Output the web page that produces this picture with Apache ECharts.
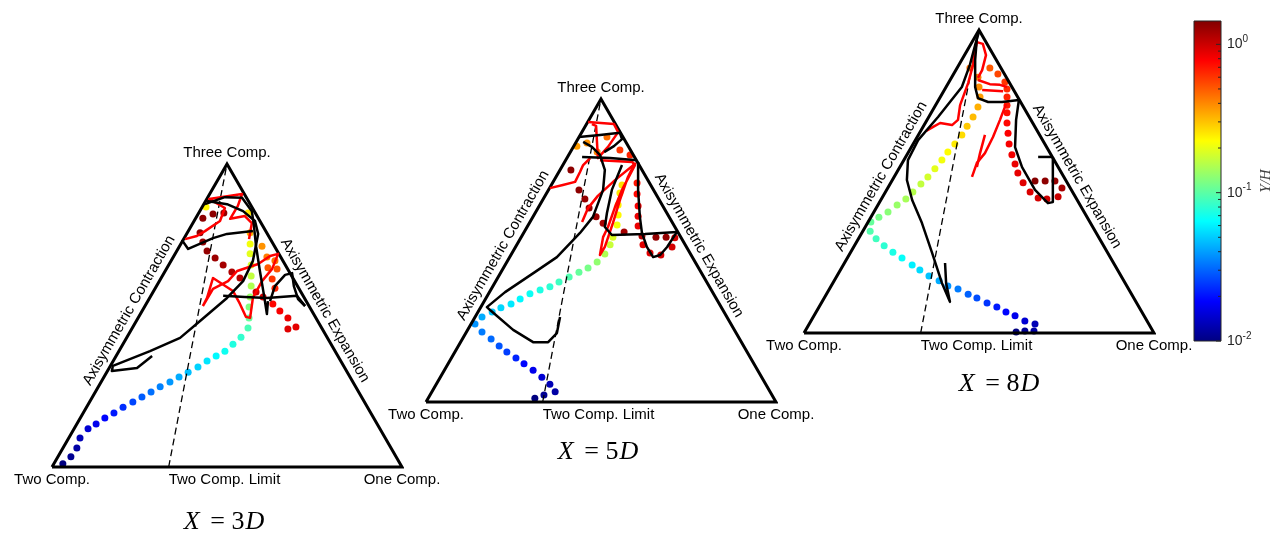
<!DOCTYPE html>
<html>
<head>
<meta charset="utf-8">
<title>Barycentric anisotropy maps</title>
<script src="https://cdn.jsdelivr.net/npm/echarts/dist/echarts.min.js"></script>
<style>
  html, body { margin: 0; padding: 0; background: #fff; }
  #chart { width: 1283px; height: 535px; }
</style>
</head>
<body>
<div id="chart"></div>
<script>
// Barycentric map coordinates: Two Comp. = (0,0), One Comp. = (1,0), Three Comp. = (0.5, sqrt(3)/2)
const SQ3 = Math.sqrt(3) / 2;

const VERTEX_LABELS = ['Three Comp.', 'Two Comp.', 'Two Comp. Limit', 'One Comp.'];
const EDGE_LABELS = ['Axisymmetric Contraction', 'Axisymmetric Expansion'];
const STATIONS = ['3', '5', '8'];            // X / D of each map

// Colour bar (Y/H, log scale)
const CB_RANGE = [0.01, 1.436];
const CB_MAJOR = [0.01, 0.1, 1];
const CB_MINOR = [0.02, 0.03, 0.04, 0.05, 0.06, 0.07, 0.08, 0.09, 0.2, 0.3, 0.4, 0.5, 0.6, 0.7, 0.8, 0.9];

// ---- X = 3D ----  dots: [x, y, Y/H]
const dots3D = [
  [0.031,0.009,0.010],[0.054,0.029,0.011],[0.071,0.054,0.012],[0.080,0.083,0.013],
  [0.103,0.109,0.015],[0.126,0.123,0.017],[0.151,0.140,0.019],[0.177,0.154,0.021],
  [0.203,0.171,0.023],[0.231,0.186,0.026],[0.257,0.200,0.029],[0.283,0.214,0.032],
  [0.309,0.229,0.035],[0.337,0.243,0.039],[0.363,0.257,0.043],[0.389,0.271,0.047],
  [0.417,0.286,0.052],[0.443,0.303,0.057],[0.469,0.317,0.063],[0.494,0.331,0.069],
  [0.517,0.351,0.075],[0.540,0.371,0.082],[0.560,0.397,0.092],[0.563,0.426,0.105],
  [0.563,0.457,0.12],[0.566,0.486,0.135],[0.569,0.517,0.15],[0.569,0.546,0.165],
  [0.569,0.577,0.18],[0.566,0.609,0.195],[0.566,0.637,0.21],[0.560,0.726,0.25],
  [0.440,0.743,0.23],[0.566,0.669,0.32],[0.600,0.631,0.38],[0.614,0.600,0.42],
  [0.637,0.589,0.45],[0.617,0.569,0.5],[0.643,0.566,0.52],[0.629,0.537,0.6],
  [0.637,0.511,0.65],[0.631,0.466,0.75],[0.651,0.446,0.8],[0.674,0.426,0.85],
  [0.674,0.394,0.9],[0.697,0.400,0.88],[0.431,0.711,1.35],[0.460,0.723,1.35],
  [0.491,0.726,1.3],[0.423,0.669,1.35],[0.431,0.643,1.3],[0.443,0.617,1.3],
  [0.466,0.597,1.25],[0.489,0.577,1.2],[0.514,0.557,1.15],[0.537,0.540,1.1],
  [0.583,0.500,1.0],[0.603,0.486,0.95]
];
const red3D = [
  [[0.380,0.651],[0.414,0.660],[0.437,0.674],[0.480,0.703],[0.494,0.740],[0.449,0.766],
   [0.543,0.780],[0.531,0.746],[0.509,0.709],[0.551,0.717],[0.571,0.697],[0.563,0.651]],
  [[0.431,0.460],[0.460,0.509],[0.503,0.531],[0.529,0.560],[0.589,0.580],[0.623,0.603],
   [0.646,0.609],[0.629,0.566],[0.600,0.531],[0.574,0.483],[0.566,0.426],[0.554,0.429],
   [0.537,0.466],[0.517,0.503],[0.460,0.540],[0.443,0.483],[0.431,0.460]]
];
const black3D = [
  [[0.286,0.317],[0.243,0.283],[0.171,0.274],[0.174,0.289],[0.280,0.331],[0.366,0.369],
   [0.423,0.417],[0.500,0.483],[0.546,0.531],[0.574,0.589],[0.589,0.666],[0.580,0.703],
   [0.546,0.731],[0.500,0.751],[0.443,0.760]],
  [[0.437,0.751],[0.494,0.771],[0.543,0.769],[0.571,0.731],[0.577,0.689],[0.583,0.631],
   [0.594,0.560],[0.606,0.489],[0.614,0.437],[0.617,0.474]],
  [[0.371,0.649],[0.389,0.623],[0.460,0.654],[0.500,0.666],[0.574,0.674]],
  [[0.489,0.489],[0.551,0.486],[0.614,0.483],[0.700,0.489],[0.723,0.460]],
  [[0.623,0.474],[0.637,0.517],[0.666,0.549],[0.686,0.554],[0.691,0.517],[0.703,0.480],[0.723,0.460]]
];

// ---- X = 5D ----
const dots5D = [
  [0.311,0.011,0.010],[0.337,0.020,0.011],[0.369,0.029,0.012],[0.354,0.051,0.013],
  [0.331,0.071,0.015],[0.306,0.091,0.017],[0.280,0.109,0.019],[0.257,0.126,0.022],
  [0.231,0.143,0.025],[0.209,0.160,0.028],[0.186,0.180,0.031],[0.160,0.200,0.034],
  [0.140,0.223,0.038],[0.160,0.243,0.043],[0.189,0.257,0.048],[0.214,0.269,0.053],
  [0.243,0.280,0.058],[0.269,0.294,0.063],[0.297,0.309,0.068],[0.326,0.320,0.074],
  [0.354,0.329,0.08],[0.380,0.343,0.087],[0.409,0.357,0.095],[0.437,0.371,0.105],
  [0.463,0.383,0.115],[0.489,0.400,0.13],[0.511,0.423,0.15],[0.526,0.449,0.17],
  [0.534,0.471,0.19],[0.546,0.506,0.21],[0.549,0.534,0.23],[0.549,0.563,0.24],
  [0.554,0.597,0.25],[0.560,0.620,0.26],[0.431,0.731,0.36],[0.460,0.740,0.38],
  [0.489,0.714,0.4],[0.517,0.757,0.45],[0.554,0.720,0.6],[0.583,0.706,0.65],
  [0.603,0.626,0.7],[0.603,0.594,0.75],[0.606,0.560,0.8],[0.606,0.531,0.85],
  [0.606,0.503,0.85],[0.620,0.449,0.9],[0.640,0.426,0.9],[0.671,0.420,0.95],
  [0.703,0.443,0.95],[0.711,0.469,0.95],[0.657,0.471,1.3],[0.686,0.471,1.3],
  [0.617,0.474,1.1],[0.566,0.486,1.2],[0.414,0.663,1.35],[0.437,0.606,1.35],
  [0.454,0.580,1.3],[0.466,0.554,1.3],[0.486,0.529,1.25],[0.506,0.511,1.2]
];
const red5D = [
  [[0.354,0.611],[0.391,0.620],[0.426,0.629],[0.440,0.657],[0.449,0.677],[0.469,0.697]],
  [[0.463,0.800],[0.537,0.794],[0.549,0.771],[0.520,0.729],[0.491,0.697],[0.486,0.789],[0.474,0.794]],
  [[0.497,0.691],[0.589,0.686],[0.597,0.677],[0.560,0.606],[0.540,0.557],[0.520,0.500],
   [0.506,0.471],[0.497,0.420],[0.511,0.443],[0.534,0.511],[0.554,0.577],[0.577,0.643],[0.594,0.677]],
  [[0.600,0.683],[0.540,0.634],[0.491,0.589],[0.463,0.554],[0.446,0.514]]
];
const black5D = [
  [[0.383,0.243],[0.374,0.197],[0.349,0.171],[0.306,0.171],[0.249,0.206],[0.183,0.263],
   [0.174,0.271],[0.226,0.314],[0.311,0.371],[0.374,0.414],[0.440,0.483],[0.477,0.529],
   [0.506,0.606],[0.511,0.663],[0.497,0.706],[0.474,0.729],[0.449,0.743]],
  [[0.437,0.757],[0.497,0.763],[0.554,0.769],[0.560,0.751],[0.537,0.731],[0.509,0.714]],
  [[0.446,0.700],[0.526,0.697],[0.603,0.691]],
  [[0.560,0.677],[0.531,0.606],[0.517,0.540],[0.511,0.500],[0.531,0.477],[0.626,0.480],[0.717,0.486]],
  [[0.606,0.686],[0.606,0.606],[0.611,0.529],[0.617,0.483],[0.631,0.443],[0.649,0.414],
   [0.669,0.420],[0.689,0.443],[0.717,0.486]]
];

// ---- X = 8D ----
const dots8D = [
  [0.606,0.003,0.010],[0.631,0.006,0.011],[0.657,0.006,0.012],[0.660,0.026,0.013],
  [0.631,0.034,0.015],[0.603,0.049,0.017],[0.577,0.060,0.019],[0.551,0.074,0.021],
  [0.523,0.086,0.024],[0.494,0.100,0.027],[0.469,0.111,0.030],[0.440,0.126,0.034],
  [0.411,0.134,0.038],[0.386,0.149,0.043],[0.357,0.163,0.048],[0.331,0.180,0.054],
  [0.309,0.194,0.060],[0.280,0.214,0.066],[0.254,0.231,0.073],[0.229,0.249,0.080],
  [0.206,0.269,0.088],[0.189,0.291,0.096],[0.191,0.317,0.105],[0.214,0.331,0.115],
  [0.240,0.346,0.125],[0.266,0.366,0.135],[0.291,0.383,0.145],[0.311,0.403,0.155],
  [0.334,0.426,0.165],[0.354,0.446,0.18],[0.374,0.469,0.195],[0.394,0.494,0.21],
  [0.411,0.517,0.225],[0.431,0.540,0.245],[0.451,0.566,0.265],[0.466,0.591,0.29],
  [0.483,0.617,0.31],[0.497,0.646,0.33],[0.503,0.674,0.36],[0.500,0.703,0.39],
  [0.497,0.731,0.42],[0.474,0.757,0.45],[0.531,0.757,0.5],[0.554,0.740,0.55],
  [0.574,0.717,0.6],[0.580,0.697,0.63],[0.580,0.674,0.66],[0.580,0.651,0.69],
  [0.580,0.629,0.72],[0.580,0.600,0.75],[0.583,0.571,0.78],[0.586,0.540,0.8],
  [0.594,0.509,0.82],[0.603,0.483,0.85],[0.611,0.457,0.87],[0.626,0.429,0.9],
  [0.646,0.403,0.92],[0.669,0.386,0.95],[0.694,0.383,0.98],[0.726,0.389,1.0],
  [0.737,0.414,1.2],[0.717,0.434,1.3],[0.689,0.434,1.35],[0.660,0.434,1.4]
];
const red8D = [
  [[0.349,0.577],[0.369,0.589],[0.389,0.600],[0.423,0.594],[0.440,0.609],[0.446,0.651],
   [0.469,0.714],[0.483,0.766],[0.489,0.809],[0.494,0.831],[0.511,0.826],[0.520,0.794],
   [0.509,0.751],[0.497,0.729]],
  [[0.497,0.723],[0.531,0.711],[0.560,0.709],[0.580,0.703]],
  [[0.509,0.694],[0.569,0.691]],
  [[0.577,0.654],[0.560,0.609],[0.540,0.560],[0.517,0.514],[0.494,0.486],[0.480,0.446]],
  [[0.517,0.566],[0.503,0.514],[0.494,0.474]]
];
const black8D = [
  [[0.500,0.860],[0.489,0.823],[0.474,0.766],[0.451,0.703],[0.383,0.617],[0.326,0.551],
   [0.297,0.494],[0.294,0.437],[0.309,0.380],[0.337,0.314],[0.366,0.229],[0.394,0.143],
   [0.417,0.089],[0.406,0.143],[0.403,0.200]],
  [[0.494,0.843],[0.489,0.780],[0.489,0.703],[0.497,0.671],[0.526,0.660],[0.566,0.660],
   [0.614,0.666],[0.606,0.609],[0.603,0.531],[0.623,0.474],[0.660,0.409],[0.697,0.371],
   [0.711,0.374],[0.711,0.437],[0.711,0.503]],
  [[0.669,0.503],[0.711,0.503]]
];

// ---- layout ----
const W = 350;                 // triangle base length in px
const EDGE_GAP = 12;           // px between an edge and its label centre line
const EDGE_LIFT = 11;          // px the rotated edge labels are raised
const SANS = "'Liberation Sans', Arial, Helvetica, sans-serif";
const SERIF = "'Liberation Serif', 'Times New Roman', serif";
const JET = ['#000080', '#0000ff', '#0080ff', '#00ffff', '#80ff80', '#ffff00', '#ff8000', '#ff0000', '#800000'];

const PANELS = [
  { dots: dots3D, red: red3D, black: black3D, left: 52,  base: 467, capX: 224, capY: 522 },
  { dots: dots5D, red: red5D, black: black5D, left: 426, base: 402, capX: 598, capY: 452 },
  { dots: dots8D, red: red8D, black: black8D, left: 804, base: 333, capX: 999, capY: 384 }
];

const TRIANGLE = [[0, 0], [1, 0], [0.5, SQ3], [0, 0]];
const LIMIT_LINE = [[1 / 3, 0], [0.5, SQ3]];

const grid = [], xAxis = [], yAxis = [], series = [], dotSeries = [], graphic = [];

PANELS.forEach((p, i) => {
  grid.push({ left: p.left, top: p.base - W * SQ3, width: W, height: W * SQ3, outerBoundsMode: 'none' });
  xAxis.push({ gridIndex: i, type: 'value', min: 0, max: 1, show: false });
  yAxis.push({ gridIndex: i, type: 'value', min: 0, max: SQ3, show: false });
  const common = { xAxisIndex: i, yAxisIndex: i, silent: true, clip: false, animation: false };

  series.push(Object.assign({}, common, {
    type: 'line', data: TRIANGLE, symbol: 'none',
    lineStyle: { color: '#000', width: 3, join: 'miter', opacity: 1 }
  }));
  series.push(Object.assign({}, common, {
    type: 'line', data: LIMIT_LINE, symbol: 'none',
    lineStyle: { color: '#000', width: 1.3, type: [7, 4], opacity: 1 }
  }));
  dotSeries.push(series.length);
  series.push(Object.assign({}, common, {
    type: 'scatter', symbolSize: 7,
    itemStyle: { opacity: 1 },
    data: p.dots.map(d => [d[0], d[1], Math.log10(d[2])])
  }));
  p.red.forEach(path => series.push(Object.assign({}, common, {
    type: 'line', data: path, symbol: 'none',
    lineStyle: { color: '#ff0000', width: 2.5, join: 'round', opacity: 1 }
  })));
  p.black.forEach(path => series.push(Object.assign({}, common, {
    type: 'line', data: path, symbol: 'none',
    lineStyle: { color: '#000', width: 2.5, join: 'round', opacity: 1 }
  })));

  // corner and edge labels, anchored to the map coordinates
  const off = EDGE_GAP / W, lift = EDGE_LIFT / W;
  series.push(Object.assign({}, common, {
    type: 'scatter', symbolSize: 0, z: 5,
    itemStyle: { opacity: 1 },
    label: { show: true, fontFamily: SANS, fontSize: 15, color: '#000', opacity: 1, textBorderWidth: 0 },
    data: [
      { value: [0.5, SQ3], label: { formatter: VERTEX_LABELS[0], position: 'top', distance: 4 } },
      { value: [0, 0], label: { formatter: VERTEX_LABELS[1], position: 'bottom', distance: 5 } },
      { value: [1 / 3, 0], label: { formatter: VERTEX_LABELS[2], position: [0, 5], align: 'left', verticalAlign: 'top' } },
      { value: [1, 0], label: { formatter: VERTEX_LABELS[3], position: 'bottom', distance: 5 } },
      { value: [0.25 - SQ3 * off, SQ3 / 2 - 0.5 * off + lift], label: { formatter: EDGE_LABELS[0], position: 'inside', rotate: 60 } },
      { value: [0.75 + SQ3 * off, SQ3 / 2 - 0.5 * off + lift], label: { formatter: EDGE_LABELS[1], position: 'inside', rotate: -60 } }
    ]
  }));

  graphic.push({
    type: 'text', x: p.capX, y: p.capY, silent: true,
    style: {
      text: '{i|X}{n| = ' + STATIONS[i] + '}{i|D}',
      rich: {
        i: { fontFamily: SERIF, fontSize: 26, fontStyle: 'italic', fill: '#000' },
        n: { fontFamily: SERIF, fontSize: 26, fill: '#000', padding: [0, 1, 0, 4] }
      },
      align: 'center', verticalAlign: 'middle',
      textAlign: 'center', textVerticalAlign: 'middle'
    }
  });
});

// ---- colour bar ----
const cb = PANELS.length;
grid.push({ left: 1194, top: 21, width: 27, height: 320, outerBoundsMode: 'none' });
xAxis.push({ gridIndex: cb, type: 'value', min: 0, max: 1, show: false });
yAxis.push({
  gridIndex: cb, type: 'log', logBase: 10, min: CB_RANGE[0], max: CB_RANGE[1], position: 'right',
  axisLine: { show: false }, axisTick: { show: false }, splitLine: { show: false },
  axisLabel: {
    margin: 6, showMaxLabel: false,
    formatter: v => {
      const e = Math.log10(v), r = Math.round(e);
      return Math.abs(e - r) > 1e-6 ? '' : '{b|10}{s|' + r + '}';
    },
    rich: {
      b: { fontFamily: SANS, fontSize: 14, lineHeight: 20, color: '#262626' },
      s: { fontFamily: SANS, fontSize: 10, lineHeight: 10, verticalAlign: 'top', color: '#262626' }
    }
  },
  name: 'Y/H', nameLocation: 'middle', nameRotate: 90, nameGap: 38,
  nameTextStyle: { fontFamily: SERIF, fontStyle: 'italic', fontSize: 15, color: '#404040' }
});
const jetStops = JET.map((c, k) => ({ offset: k / (JET.length - 1), color: c }));
series.push({
  type: 'custom', xAxisIndex: cb, yAxisIndex: cb, silent: true, animation: false, clip: false,
  data: [[0, CB_RANGE[0]]],
  renderItem: (params, api) => {
    const a = api.coord([0, CB_RANGE[0]]), b = api.coord([1, CB_RANGE[1]]);
    return {
      type: 'rect',
      shape: { x: a[0], y: b[1], width: b[0] - a[0], height: a[1] - b[1] },
      style: { fill: new echarts.graphic.LinearGradient(0, 1, 0, 0, jetStops), stroke: '#262626', lineWidth: 1 }
    };
  }
});
series.push({
  type: 'custom', xAxisIndex: cb, yAxisIndex: cb, silent: true, animation: false, clip: false,
  data: CB_MAJOR.map(v => [1, v, 5]).concat(CB_MINOR.map(v => [1, v, 3])),
  renderItem: (params, api) => {
    const p = api.coord([1, api.value(1)]), len = api.value(2);
    return {
      type: 'line',
      shape: { x1: p[0] - len, y1: p[1], x2: p[0], y2: p[1] },
      style: { stroke: '#262626', lineWidth: 1 }
    };
  }
});

const chart = echarts.init(document.getElementById('chart'), null, { renderer: 'canvas' });
chart.setOption({
  backgroundColor: '#fff',
  animation: false,
  grid, xAxis, yAxis, series, graphic,
  visualMap: {
    type: 'continuous', show: false, seriesIndex: dotSeries, dimension: 2,
    min: Math.log10(CB_RANGE[0]), max: Math.log10(CB_RANGE[1]),
    inRange: { color: JET }
  }
});
</script>
</body>
</html>
